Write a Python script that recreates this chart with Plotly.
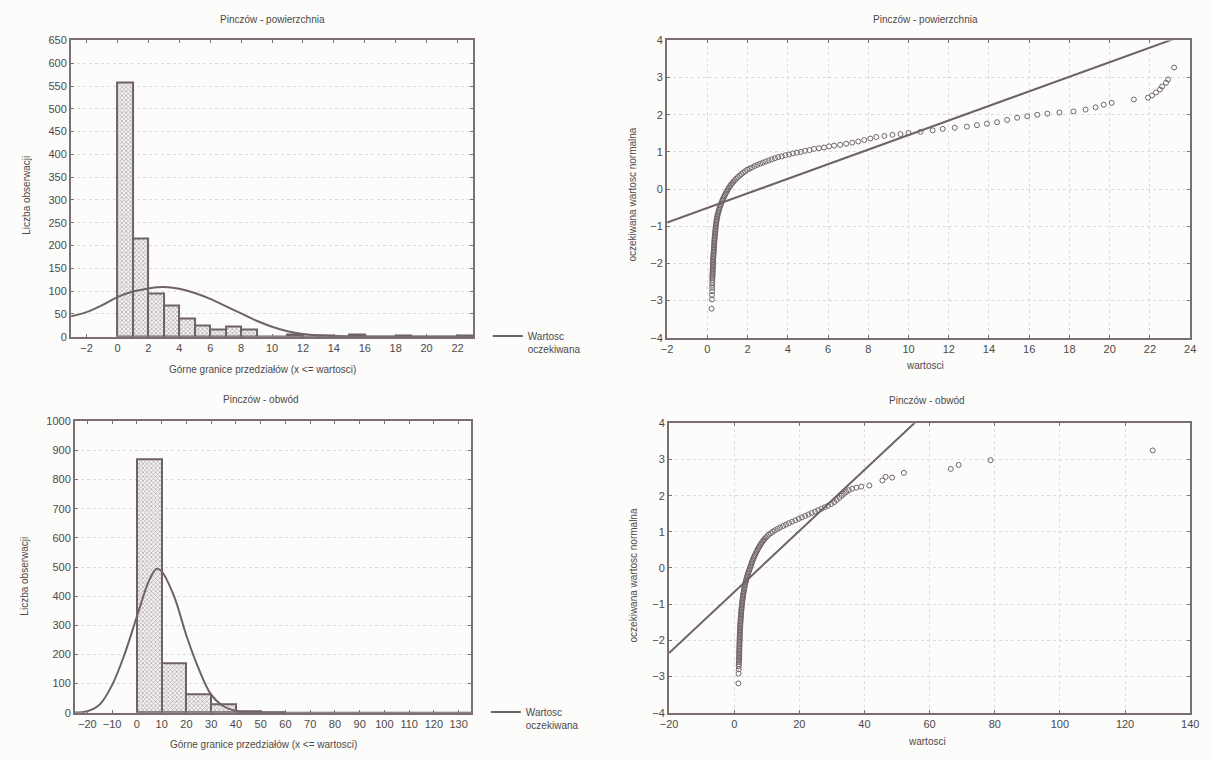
import plotly.graph_objects as go

W, H = 1212, 761

# ---------------- data ----------------
# Top histogram: Pinczów - powierzchnia (bin width 1)
top_bin_lower = [0, 1, 2, 3, 4, 5, 6, 7, 8, 9, 10, 11, 12, 13, 14, 15, 16, 17, 18, 19, 20, 21, 22]
top_counts    = [558, 216, 94, 68, 39, 25, 16, 23, 16, 1, 1, 4, 1, 3, 1, 5, 0, 0, 2, 0, 0, 0, 2]
top_bin_width = 1

top_curve_x = [-3, -2, -1, 0, 1, 2, 3, 4, 5, 6, 7, 8, 9, 10, 11, 12, 13, 14, 15, 16, 17, 18, 19, 20, 21, 22, 23]
top_curve_y = [45, 54, 69, 87, 99, 106, 109, 105, 96, 83, 67, 51, 35, 22, 12, 6, 3, 1.5, 0.6, 0.2, 0, 0, 0, 0, 0, 0, 0]

# Bottom histogram: Pinczów - obwód (bin width 10)
bot_bin_lower = [0, 10, 20, 30, 40, 50]
bot_counts    = [869, 168, 62, 27, 4, 1]
bot_bin_width = 10

bot_curve_x = [-25, -20, -15, -10, -5, 0, 5, 8, 10, 15, 20, 25, 30, 35, 40, 45, 50, 55, 60, 135]
bot_curve_y = [0.5, 5, 28, 95, 200, 330, 455, 494, 485, 400, 265, 150, 62, 22, 6, 1.5, 0.3, 0, 0, 0]

# Top Q-Q plot (wartosci, oczekiwana wartosc normalna)
qq1_points = [
    (0.21, -3.22), (0.23, -2.97), (0.23, -2.85), (0.24, -2.75), (0.24, -2.66), (0.24, -2.58), (0.25, -2.51), (0.25, -2.45),
    (0.25, -2.40), (0.25, -2.36), (0.26, -2.32), (0.26, -2.28), (0.26, -2.24), (0.27, -2.20), (0.27, -2.16), (0.27, -2.12),
    (0.28, -2.08), (0.28, -2.04), (0.28, -2.00), (0.29, -1.96), (0.29, -1.92), (0.29, -1.88), (0.30, -1.84), (0.30, -1.80),
    (0.31, -1.76), (0.31, -1.72), (0.32, -1.68), (0.32, -1.64), (0.33, -1.60), (0.33, -1.56), (0.34, -1.52), (0.34, -1.48),
    (0.35, -1.44), (0.35, -1.40), (0.36, -1.36), (0.36, -1.32), (0.37, -1.28), (0.38, -1.24), (0.38, -1.20), (0.39, -1.16),
    (0.40, -1.12), (0.41, -1.08), (0.41, -1.04), (0.42, -1.00), (0.43, -0.96), (0.44, -0.92), (0.45, -0.88), (0.46, -0.84),
    (0.47, -0.80), (0.49, -0.76), (0.50, -0.72), (0.52, -0.68), (0.54, -0.64), (0.56, -0.60), (0.58, -0.56), (0.60, -0.52),
    (0.63, -0.48), (0.65, -0.44), (0.68, -0.40), (0.71, -0.36), (0.74, -0.32), (0.77, -0.28), (0.80, -0.24), (0.84, -0.20),
    (0.87, -0.16), (0.91, -0.12), (0.95, -0.08), (0.99, -0.04), (1.03, 0.00), (1.08, 0.04), (1.13, 0.08), (1.18, 0.12),
    (1.24, 0.16), (1.30, 0.20), (1.37, 0.24), (1.44, 0.28), (1.52, 0.32), (1.60, 0.36), (1.69, 0.40), (1.78, 0.44),
    (1.88, 0.48), (1.98, 0.52), (2.10, 0.55), (2.22, 0.58), (2.35, 0.62), (2.48, 0.65), (2.62, 0.68), (2.76, 0.71),
    (2.90, 0.74), (3.05, 0.77), (3.20, 0.80), (3.36, 0.83), (3.52, 0.86), (3.70, 0.88), (3.88, 0.91), (4.06, 0.93),
    (4.25, 0.96), (4.45, 0.98), (4.65, 1.00), (4.86, 1.03), (5.08, 1.05), (5.30, 1.08), (5.55, 1.10), (5.80, 1.12),
    (6.05, 1.15), (6.30, 1.17), (6.60, 1.19), (6.90, 1.22), (7.20, 1.25), (7.50, 1.28), (7.80, 1.32), (8.10, 1.36),
    (8.40, 1.40), (8.80, 1.43), (9.20, 1.46), (9.60, 1.48), (10.0, 1.51), (10.6, 1.54), (11.2, 1.58), (11.7, 1.62),
    (12.3, 1.65), (12.9, 1.68), (13.4, 1.72), (13.9, 1.76), (14.4, 1.80), (14.9, 1.86), (15.4, 1.92), (15.9, 1.96),
    (16.4, 2.00), (16.9, 2.03), (17.5, 2.06), (18.2, 2.09), (18.8, 2.14), (19.3, 2.20), (19.7, 2.27), (20.1, 2.32),
    (21.2, 2.41), (21.9, 2.46), (22.1, 2.52), (22.3, 2.60), (22.5, 2.68), (22.6, 2.76), (22.8, 2.86), (22.9, 2.95),
    (23.2, 3.27),
]
qq1_line_x = [-2, 24]
qq1_line_y = [-0.9, 4.2]

# Bottom Q-Q plot
qq2_points = [
    (1.30, -3.19), (1.35, -2.92), (1.40, -2.80), (1.40, -2.72), (1.45, -2.66), (1.45, -2.60),
    (1.50, -2.56), (1.51, -2.52), (1.52, -2.48), (1.53, -2.44), (1.54, -2.40), (1.55, -2.36), (1.56, -2.32), (1.57, -2.28),
    (1.58, -2.24), (1.59, -2.20), (1.61, -2.16), (1.62, -2.12), (1.63, -2.08), (1.65, -2.04), (1.66, -2.00), (1.68, -1.96),
    (1.70, -1.92), (1.71, -1.88), (1.73, -1.84), (1.75, -1.80), (1.77, -1.76), (1.79, -1.72), (1.81, -1.68), (1.83, -1.64),
    (1.86, -1.60), (1.88, -1.56), (1.91, -1.52), (1.94, -1.48), (1.97, -1.44), (2.00, -1.40), (2.03, -1.36), (2.07, -1.32),
    (2.10, -1.28), (2.14, -1.24), (2.18, -1.20), (2.22, -1.16), (2.26, -1.12), (2.30, -1.08), (2.35, -1.04), (2.40, -1.00),
    (2.45, -0.96), (2.50, -0.92), (2.55, -0.88), (2.61, -0.84), (2.67, -0.80), (2.73, -0.76), (2.80, -0.72), (2.87, -0.68),
    (2.94, -0.64), (3.02, -0.60), (3.10, -0.56), (3.19, -0.52), (3.28, -0.48), (3.38, -0.44), (3.48, -0.40), (3.59, -0.36),
    (3.70, -0.32), (3.82, -0.28), (3.95, -0.24), (4.08, -0.20), (4.22, -0.16), (4.37, -0.12), (4.52, -0.08), (4.68, -0.04),
    (4.85, 0.00), (5.00, 0.04), (5.15, 0.08), (5.30, 0.12), (5.45, 0.16), (5.62, 0.20), (5.80, 0.24), (5.98, 0.28),
    (6.18, 0.32), (6.38, 0.36), (6.58, 0.40), (6.80, 0.44), (7.02, 0.48), (7.25, 0.52), (7.50, 0.56), (7.76, 0.60),
    (8.03, 0.64), (8.32, 0.68), (8.62, 0.72), (8.95, 0.76), (9.30, 0.80), (9.70, 0.84), (10.1, 0.88), (10.6, 0.92),
    (11.2, 0.96), (11.8, 1.00), (12.5, 1.04), (13.3, 1.08), (14.1, 1.12), (15.0, 1.16), (15.9, 1.20), (16.8, 1.24),
    (17.8, 1.28), (18.8, 1.32), (19.8, 1.36), (20.8, 1.40), (21.8, 1.44), (22.8, 1.48), (23.8, 1.52), (24.8, 1.56),
    (25.8, 1.60), (26.8, 1.64), (27.8, 1.68), (28.8, 1.72), (29.8, 1.77), (30.7, 1.82), (31.5, 1.88), (32.3, 1.94),
    (33.0, 2.00), (33.7, 2.05), (34.4, 2.10), (35.2, 2.15), (36.2, 2.19), (37.5, 2.22), (39.0, 2.25), (41.5, 2.28),
    (45.5, 2.42), (46.5, 2.52), (48.5, 2.50), (52.1, 2.63), (66.5, 2.74), (68.9, 2.85), (78.7, 2.98), (128.5, 3.25),
]
qq2_line_x = [-20, 60]
qq2_line_y = [-2.35, 4.4]

titles = ["Pinczów - powierzchnia", "Pinczów - obwód"]
hist_xlabel = "Górne granice przedziałów (x <= wartosci)"
hist_ylabel = "Liczba obserwacji"
qq_xlabel = "wartosci"
qq_ylabel = "oczekiwana wartosc normalna"
legend_label = "Wartosc<br>oczekiwana"

# ---------------- style ----------------
FONT = "Liberation Sans, Arial, sans-serif"
TXT = "#4e4949"
FRAME = "#7b6f72"
LINEC = "#6f6265"
BG = "#fcfcfa"
GRID = "#dedbdb"

def px_x(p):
    return p / W

def px_y(p):
    return 1 - p / H

fig = go.Figure()

bar_marker = dict(color="#f3f1f1", line=dict(color=LINEC, width=2),
                  pattern=dict(shape="x", size=3, solidity=0.45, fgcolor="#756a6c", bgcolor="#f4f2f2"))

# top histogram
fig.add_trace(go.Bar(
    x=[b + top_bin_width / 2 for b in top_bin_lower], y=top_counts, width=top_bin_width,
    marker=bar_marker, xaxis="x", yaxis="y", showlegend=False, hoverinfo="x+y"))
fig.add_trace(go.Scatter(
    x=top_curve_x, y=top_curve_y, mode="lines", line=dict(color=LINEC, width=2, shape="spline", smoothing=1.0),
    name=legend_label, xaxis="x", yaxis="y", legend="legend"))

# bottom histogram
fig.add_trace(go.Bar(
    x=[b + bot_bin_width / 2 for b in bot_bin_lower], y=bot_counts, width=bot_bin_width,
    marker=bar_marker, xaxis="x3", yaxis="y3", showlegend=False, hoverinfo="x+y"))
fig.add_trace(go.Scatter(
    x=bot_curve_x, y=bot_curve_y, mode="lines", line=dict(color=LINEC, width=2, shape="spline", smoothing=1.0),
    name=legend_label, xaxis="x3", yaxis="y3", legend="legend2"))

qq_marker = dict(symbol="circle-open", size=5, color="#716668", line=dict(width=1))

# top QQ
fig.add_trace(go.Scatter(x=qq1_line_x, y=qq1_line_y, mode="lines", line=dict(color=LINEC, width=2),
                         xaxis="x2", yaxis="y2", showlegend=False))
fig.add_trace(go.Scatter(x=[p[0] for p in qq1_points], y=[p[1] for p in qq1_points], mode="markers",
                         marker=qq_marker, xaxis="x2", yaxis="y2", showlegend=False))
# bottom QQ
fig.add_trace(go.Scatter(x=qq2_line_x, y=qq2_line_y, mode="lines", line=dict(color=LINEC, width=2),
                         xaxis="x4", yaxis="y4", showlegend=False))
fig.add_trace(go.Scatter(x=[p[0] for p in qq2_points], y=[p[1] for p in qq2_points], mode="markers",
                         marker=qq_marker, xaxis="x4", yaxis="y4", showlegend=False))

tickfont = dict(family=FONT, size=11, color=TXT)

def ax(domain, rng, dtick, anchor, grid, tick0=None):
    d = dict(domain=domain, range=rng, dtick=dtick, anchor=anchor, showline=True, mirror="allticks",
             linecolor=FRAME, linewidth=2, ticks="inside", ticklen=3, tickcolor=FRAME, tickwidth=1,
             showgrid=grid, gridcolor=GRID, griddash="dot", gridwidth=1, zeroline=False,
             tickfont=tickfont, fixedrange=True)
    if tick0 is not None:
        d["tick0"] = tick0
    return d

fig.update_layout(
    width=W, height=H, margin=dict(l=0, r=0, t=0, b=0),
    paper_bgcolor=BG, plot_bgcolor=BG, bargap=0,
    font=dict(family=FONT, color=TXT),
    xaxis=ax([px_x(63), px_x(471)], [-3, 23], 2, "y", False, tick0=0),
    yaxis=ax([px_y(336), px_y(35)], [0, 650], 50, "x", True),
    xaxis2=ax([px_x(668), px_x(1199)], [-2, 24], 2, "y2", True, tick0=0),
    yaxis2=ax([px_y(337), px_y(35)], [-4, 4], 1, "x2", True),
    xaxis3=ax([px_x(67), px_x(469)], [-25, 135], 10, "y3", False, tick0=0),
    yaxis3=ax([px_y(718), px_y(422)], [0, 1000], 100, "x3", True),
    xaxis4=ax([px_x(670), px_x(1199)], [-20, 140], 20, "y4", True, tick0=0),
    yaxis4=ax([px_y(718), px_y(424)], [-4, 4], 1, "x4", True),
    legend=dict(x=px_x(486), y=px_y(322), xanchor="left", yanchor="top", bgcolor="rgba(0,0,0,0)",
                font=dict(family=FONT, size=10, color=TXT), valign="top", itemwidth=30),
    legend2=dict(x=px_x(484), y=px_y(704), xanchor="left", yanchor="top", bgcolor="rgba(0,0,0,0)",
                 font=dict(family=FONT, size=10, color=TXT), valign="top", itemwidth=30),
)

ann = []
def text(x, y, s, size=10, angle=0):
    ann.append(dict(x=px_x(x), y=px_y(y), xref="paper", yref="paper", text=s, showarrow=False,
                    textangle=angle, xanchor="center", yanchor="middle",
                    font=dict(family=FONT, size=size, color=TXT)))

text(267, 14, titles[0])
text(930, 14, titles[0])
text(256, 400, titles[1])
text(932, 401, titles[1])
text(257, 369, hist_xlabel)
text(258, 750, hist_xlabel)
text(930, 365, qq_xlabel)
text(932, 747, qq_xlabel)
text(18, 192, hist_ylabel, angle=-90)
text(16, 579, hist_ylabel, angle=-90)
text(633, 192, qq_ylabel, angle=-90)
text(634, 579, qq_ylabel, angle=-90)
fig.update_layout(annotations=ann)

fig.write_html("out.html", config={"displayModeBar": False},
               post_script="document.body.style.margin='0';document.body.style.overflow='hidden';")
